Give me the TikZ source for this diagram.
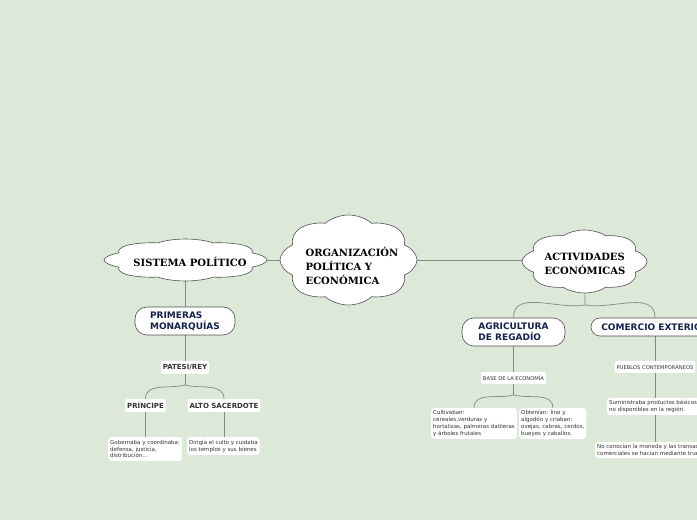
\documentclass[tikz,border=0pt]{standalone}
\usepackage{fontspec}
\setmainfont{DejaVu Sans}
\newfontfamily\slabfont{DejaVu Serif}
\usetikzlibrary{shapes.symbols,backgrounds}
\definecolor{bg}{RGB}{220,232,216}
\definecolor{conn}{RGB}{128,138,128}
\definecolor{navy}{RGB}{22,34,78}
\definecolor{txt}{RGB}{51,51,51}
\definecolor{bord}{RGB}{80,80,80}
\begin{document}
\begin{tikzpicture}[x=1pt,y=1pt,
 cloudbox/.style={cloud, draw=bord, fill=white, line width=0.6pt, cloud ignores aspect, inner sep=0pt, minimum width=100pt, minimum height=100pt, cloud puffs=8, cloud puff arc=115, transform shape},
 cloudtext/.style={font=\slabfont\bfseries\fontsize{10}{14}\selectfont, align=left, text=black, inner sep=0pt},
 mainbox/.style={draw=bord, fill=white, rounded corners=12pt, line width=0.6pt, inner sep=0pt, font=\bfseries\fontsize{9}{11}\selectfont, text=navy, align=left},
 tag/.style={fill=white, rounded corners=2pt, inner xsep=2pt, inner ysep=0pt, minimum height=13pt, font=\bfseries\fontsize{7}{8}\selectfont, text=txt},
 smalltag/.style={fill=white, rounded corners=2pt, inner xsep=2pt, inner ysep=0pt, minimum height=12pt, font=\fontsize{5.2}{6}\selectfont, text=txt},
 descbox/.style={fill=white, rounded corners=3pt, inner sep=2pt, font=\fontsize{5.5}{6.8}\selectfont, text=txt, align=left},
 link/.style={draw=conn, line width=0.7pt},
]
\useasboundingbox (0,0) rectangle (697,520);
% clouds
\begin{scope}[shift={(348.5,260)}, xscale=1.37, yscale=0.9]
\node[cloudbox] (org) at (0,0) {};
\end{scope}
\node[cloudtext] (orgt) at (352,254) {ORGANIZACIÓN\\POLÍTICA Y\\ECONÓMICA};
\begin{scope}[shift={(185.5,260)}, xscale=1.63, yscale=0.42]
\node[cloudbox] (sis) at (0,0) {};
\end{scope}
\node[cloudtext] (sist) at (190,258) {SISTEMA POLÍTICO};
\begin{scope}[shift={(584.5,258.5)}, xscale=1.25, yscale=0.63]
\node[cloudbox] (act) at (0,0) {};
\end{scope}
\node[cloudtext] (actt) at (585,256) {ACTIVIDADES\\ECONÓMICAS};
% left branch
\node[mainbox, minimum width=100pt, minimum height=28pt] (prim) at (185,199) {PRIMERAS\\MONARQUÍAS};
\node[tag] (pat) at (185,152.5) {PATESI/REY};
\node[tag] (prin) at (145.5,114.5) {PRÍNCIPE};
\node[tag] (alto) at (224,114.5) {ALTO SACERDOTE};
\node[descbox, minimum height=24pt, anchor=west] (gob) at (108,71) {Gobernaba y coordinaba:\\defensa, justicia,\\distribución...};
\node[descbox, minimum height=18pt, anchor=west] (dir) at (187,74) {Dirigía el culto y cuidaba\\los templos y sus bienes};
% right branch
\node[mainbox, minimum width=103pt, minimum height=28pt] (agr) at (513.5,188) {AGRICULTURA\\DE REGADÍO};
\node[mainbox, minimum width=128pt, minimum height=18pt, rounded corners=9pt] (com) at (655,193) {COMERCIO EXTERIOR};
\node[smalltag] (base) at (513.5,142) {BASE DE LA ECONOMÍA};
\node[descbox, minimum height=31pt, anchor=west] (cul) at (431,96.5) {Cultivaban:\\cereales,verduras y\\hortalizas, palmeras datileras\\y árboles frutales};
\node[descbox, minimum height=31pt, anchor=west] (obt) at (519,96.5) {Obtenían: lino y\\algodón y criaban:\\ovejas, cabras, cerdos,\\bueyes y caballos.};
\node[smalltag] (pue) at (655,153) {PUEBLOS CONTEMPORÁNEOS};
\node[descbox, minimum height=17pt, anchor=west] (sum) at (607,113.5) {Suministraba productos básicos\\no disponibles en la región.};
\node[descbox, minimum height=16pt, anchor=west] (noc) at (595,70) {No conocían la moneda y las transacciones\\comerciales se hacían mediante trueque};
\coordinate (s1) at (185,135);
\coordinate (s2) at (585,215);
\coordinate (s3) at (513.5,125);
\begin{scope}[on background layer]
\fill[bg] (0,0) rectangle (697,520);
\draw[link] (sis) -- (org);
\draw[link] (org) -- (org -| act);
\draw[link] (sis.center -| prim) -- (prim);
\draw[link] (prim) -- (pat);
\draw[link] (pat) -- (s1);
\draw[link] (s1) to[out=195,in=90] (prin.north);
\draw[link] (s1) to[out=-15,in=90] (alto.north);
\draw[link] (prin) -- (prin |- gob.north);
\draw[link] (alto) -- (alto |- dir.north);
\draw[link] (act) -- (s2);
\draw[link] (s2) to[out=190,in=90] (agr.north);
\draw[link] (s2) to[out=-10,in=90] (com.north);
\draw[link] (agr) -- (base);
\draw[link] (base) -- (s3);
\draw[link] (s3) to[out=195,in=90] (cul.north);
\draw[link] (s3) to[out=-15,in=90] (obt.north);
\draw[link] (com) -- (pue);
\draw[link] (pue) -- (pue |- sum.north);
\draw[link] (sum.north -| pue) -- (pue |- noc.north);
\end{scope}
\end{tikzpicture}
\end{document}
